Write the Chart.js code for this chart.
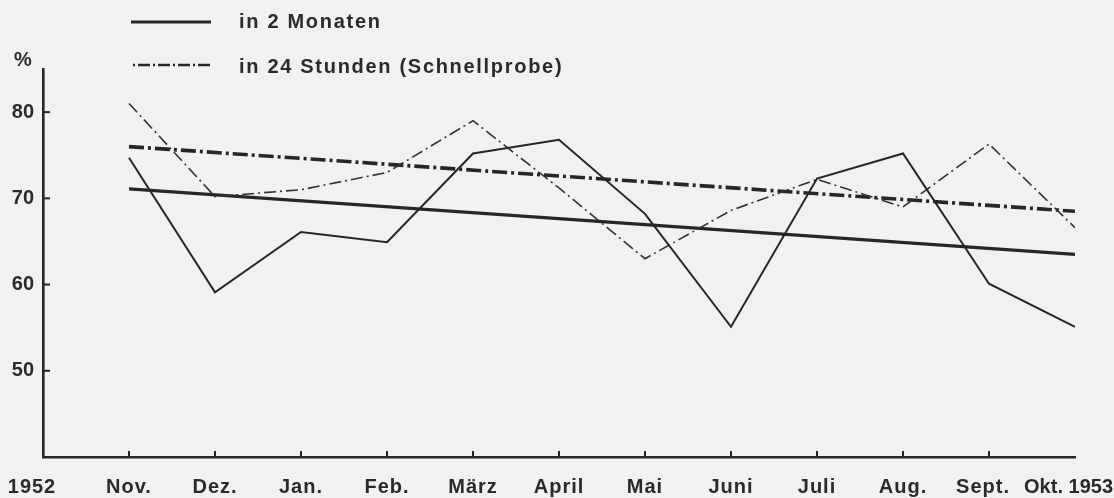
<!DOCTYPE html>
<html><head><meta charset="utf-8">
<script src="https://cdn.jsdelivr.net/npm/chart.js@4"></script>
<style>
html,body{margin:0;padding:0;background:#f1f1ef;}
#wrap{width:1114px;height:498px;position:relative;}
canvas{display:block;}
</style>
</head><body>
<div id="wrap"><canvas id="c" width="1114" height="498"></canvas></div>
<script>
// ---- data ----
const monthLabels = ['1952','Nov.','Dez.','Jan.','Feb.','März','April','Mai','Juni','Juli','Aug.','Sept.','Okt. 1953'];
const in2Monaten   = [74.7, 59.1, 66.1, 64.9, 75.2, 76.8, 68.2, 55.1, 72.3, 75.2, 60.1, 55.1];
const in24Stunden  = [81.0, 70.2, 71.0, 73.0, 79.0, 71.2, 63.0, 68.6, 72.2, 69.0, 76.3, 66.6];
const trend2Monaten  = [71.1, 63.5];   // Nov -> Okt
const trend24Stunden = [76.0, 68.5];   // Nov -> Okt
const yTicks = [50, 60, 70, 80];
const legendLabels = ['in 2 Monaten', 'in 24 Stunden (Schnellprobe)'];
const yUnit = '%';

// ---- styles ----
const INK = '#262626';
const TXT = '#2a2a2a';
const FAMILY = '"Liberation Sans", Arial, sans-serif';
const DASH_THIN = [12, 4, 2, 4];
const DASH_THICK = [15, 4, 3, 4];

const pts = arr => arr.map((v, i) => ({x: i + 1, y: v}));
const ends = arr => [{x: 1, y: arr[0]}, {x: monthLabels.length - 1, y: arr[1]}];

const decor = {
  id: 'decor',
  beforeDraw(chart) {
    const ctx = chart.ctx;
    ctx.save();
    ctx.fillStyle = '#f1f1ef';
    ctx.fillRect(0, 0, chart.width, chart.height);
    ctx.restore();
  },
  afterDraw(chart) {
    const ctx = chart.ctx, xs = chart.scales.x, ys = chart.scales.y;
    const a = chart.chartArea;
    ctx.save();
    ctx.strokeStyle = INK;
    ctx.lineWidth = 2;
    ctx.setLineDash([]);
    // inward ticks on y axis
    yTicks.forEach(v => {
      const y = ys.getPixelForValue(v);
      ctx.beginPath(); ctx.moveTo(a.left, y); ctx.lineTo(a.left + 7, y); ctx.stroke();
    });
    // inward ticks on x axis
    for (let i = 1; i < monthLabels.length - 1; i++) {
      const x = xs.getPixelForValue(i);
      ctx.beginPath(); ctx.moveTo(x, a.bottom); ctx.lineTo(x, a.bottom - 6); ctx.stroke();
    }
    // x labels
    ctx.fillStyle = TXT;
    ctx.font = 'bold 20px ' + FAMILY;
    ctx.letterSpacing = '1px';
    ctx.textBaseline = 'alphabetic';
    const BASE = 493;
    const last = monthLabels.length - 1;
    monthLabels.forEach((lab, i) => {
      const x = xs.getPixelForValue(i);
      if (i === 0) { ctx.textAlign = 'center'; ctx.fillText(lab, x - 11, BASE); }
      else if (i === last) { ctx.textAlign = 'right'; ctx.letterSpacing = '0px'; ctx.fillText(lab, 1113, BASE); ctx.letterSpacing = '1px'; }
      else if (i === last - 1) { ctx.textAlign = 'center'; ctx.fillText(lab, x - 6, BASE); }
      else { ctx.textAlign = 'center'; ctx.fillText(lab, x, BASE); }
    });
    // unit
    ctx.letterSpacing = '0px';
    ctx.textAlign = 'left';
    ctx.fillText(yUnit, 14, 66);
    // legend
    const rows = [{y: 22, x0: 131, x1: 211, by: 28},
                  {y: 65, x0: 133, x1: 211, by: 73}];
    rows.forEach((r, i) => {
      ctx.strokeStyle = INK;
      ctx.lineWidth = i === 0 ? 3 : 2.6;
      ctx.setLineDash(i === 0 ? [] : [2, 3, 12, 3]);
      ctx.beginPath(); ctx.moveTo(r.x0, r.y); ctx.lineTo(r.x1, r.y); ctx.stroke();
      ctx.setLineDash([]);
      ctx.letterSpacing = '1.7px';
      ctx.fillText(legendLabels[i], 239, r.by);
    });
    ctx.restore();
  }
};

new Chart(document.getElementById('c'), {
  type: 'line',
  data: {
    datasets: [
      {label: legendLabels[0], data: pts(in2Monaten), borderColor: INK, borderWidth: 2, pointRadius: 0, tension: 0, fill: false},
      {label: legendLabels[1], data: pts(in24Stunden), borderColor: '#333', borderWidth: 1.6, borderDash: DASH_THIN, pointRadius: 0, tension: 0, fill: false},
      {label: 'Trend 2 Monaten', data: ends(trend2Monaten), borderColor: INK, borderWidth: 3.2, pointRadius: 0, tension: 0, fill: false},
      {label: 'Trend 24 Stunden', data: ends(trend24Stunden), borderColor: INK, borderWidth: 3.6, borderDash: DASH_THICK, pointRadius: 0, tension: 0, fill: false}
    ]
  },
  options: {
    responsive: false,
    animation: false,
    devicePixelRatio: 1,
    layout: {padding: {left: 0, top: 69, right: 39, bottom: 0}},
    plugins: {legend: {display: false}, tooltip: {enabled: false}},
    scales: {
      x: {
        type: 'linear', min: 0, max: monthLabels.length - 1,
        afterBuildTicks: s => { s.ticks = monthLabels.map((_, i) => ({value: i})); },
        afterFit: s => { s.height = 41; s.paddingLeft = 0; s.paddingRight = 0; },
        ticks: {display: false},
        grid: {display: true, drawOnChartArea: false, drawTicks: false, color: 'rgba(0,0,0,0)'},
        border: {display: true, color: INK, width: 2.6}
      },
      y: {
        type: 'linear', min: 40, max: 85,
        afterBuildTicks: s => { s.ticks = yTicks.map(v => ({value: v})); },
        afterFit: s => { s.width = 43; },
        ticks: {
          padding: 9, color: TXT,
          font: {family: FAMILY, size: 20, weight: 'bold'}
        },
        grid: {display: true, drawOnChartArea: false, drawTicks: false, color: 'rgba(0,0,0,0)'},
        border: {display: true, color: INK, width: 2.6}
      }
    }
  },
  plugins: [decor]
});
</script>
</body></html>
